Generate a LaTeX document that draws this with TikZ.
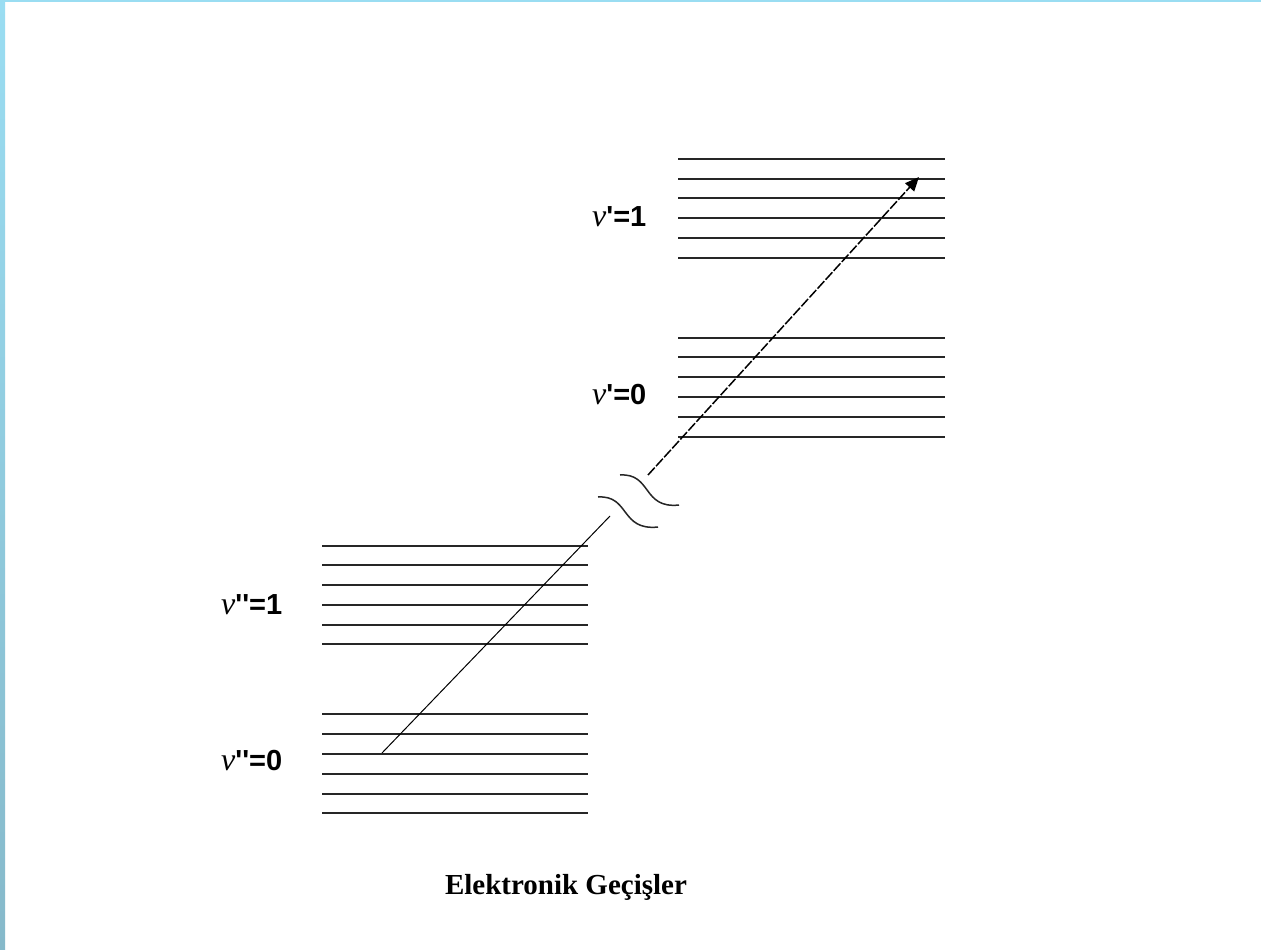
\documentclass[tikz,border=0pt]{standalone}
\usepackage{fontspec}
\setmainfont{Liberation Serif}
\newfontfamily\lblfont{Liberation Sans}
\newfontfamily\nufont{Liberation Serif}
\usetikzlibrary{arrows.meta}
\definecolor{bordertop}{HTML}{9ADDF2}
\definecolor{borderbot}{HTML}{86B9CA}
\newcommand{\bignu}{{\nufont\itshape\mdseries\fontsize{32}{34}\selectfont ν}}
\tikzset{
  level/.style={line width=1.6pt, black!85},
  lbl/.style={anchor=west, inner sep=0pt, font=\lblfont\fontsize{29}{31}\selectfont\bfseries},
  trans/.style={line width=1pt},
  brk/.style={line width=1.5pt, black!85},
}
\begin{document}
\begin{tikzpicture}[x=1pt,y=-1pt]
\useasboundingbox (0,0) rectangle (1261,950);
\fill[white] (0,0) rectangle (1261,950);
\shade[top color=bordertop, bottom color=borderbot] (0,0) rectangle (5,950);
\fill[bordertop] (0,0) rectangle (1261,2);
% upper levels v'=1
\foreach \y in {159,179,198,218,238,258} \draw[level] (678,\y) -- (945,\y);
% upper levels v'=0
\foreach \y in {338,357,377,397,417,437} \draw[level] (678,\y) -- (945,\y);
% lower levels v''=1
\foreach \y in {546,565,585,605,625,644} \draw[level] (322,\y) -- (588,\y);
% lower levels v''=0
\foreach \y in {714,734,754,774,794,813} \draw[level] (322,\y) -- (588,\y);
% labels
\node[lbl] (l1) at (592,217) {\bignu'=1};
\node[lbl] (l0) at (592,395) {\bignu'=0};
\node[lbl] (m1) at (221,605) {\bignu''=1};
\node[lbl] (m0) at (221,761) {\bignu''=0};
% transition
\coordinate (start) at (382,753);
\coordinate (gapA) at (610,516);
\coordinate (gapB) at (648,475);
\coordinate (tip) at (919,177);
\draw[trans] (start) -- (gapA);
\draw[trans, line width=1.5pt, dash pattern=on 10pt off 2pt, -{Triangle[length=14pt,width=12pt]}] (gapB) -- (tip);
% break symbol
\coordinate (b1s) at (620,475);
\coordinate (b1e) at (679,505);
\coordinate (b2s) at (598,497);
\coordinate (b2e) at (658,527);
\draw[brk] (b1s) .. controls (652,473) and (642,509) .. (b1e);
\draw[brk] (b2s) .. controls (630,495) and (620,531) .. (b2e);
% caption
\node[font=\fontsize{29}{31}\selectfont\bfseries] (cap) at (566,887) {Elektronik Geçişler};
\end{tikzpicture}
\end{document}
